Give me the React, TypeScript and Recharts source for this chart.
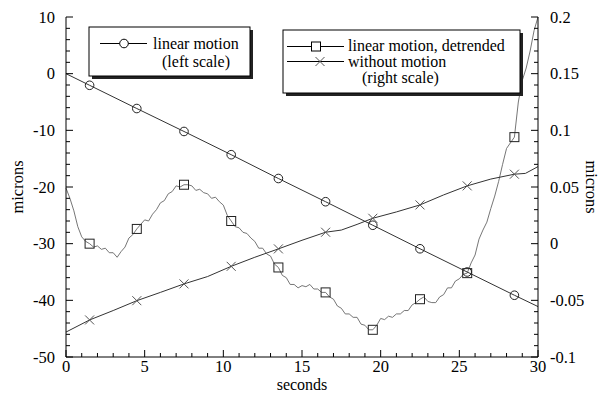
import React from 'react';
import { ComposedChart, Line, XAxis, YAxis } from 'recharts';

const FONT = '"Liberation Serif", "Times New Roman", serif';

// x positions where the symbols sit on every curve
const markerTimes = [1.5, 4.5, 7.5, 10.5, 13.5, 16.5, 19.5, 22.5, 25.5, 28.5];

// linear motion, left scale (microns)
const linearT = [0, 1.5, 4.5, 7.5, 10.5, 13.5, 16.5, 19.5, 22.5, 25.5, 28.5, 30];
const linearV = [0, -2.05, -6.15, -10.2, -14.3, -18.5, -22.6, -26.75, -30.9, -35.0, -39.1, -41.1];

// without motion, right scale (microns)
const withoutT = [0, 1.5, 3, 4.5, 6, 7.5, 9, 10.5, 12, 13.5, 15, 16.5, 17.5, 18.5, 19.5, 21, 22.5, 24, 25.5, 27, 28.5, 29.2, 30];
const withoutV = [
  -0.078, -0.0673, -0.059, -0.0503, -0.043, -0.0355, -0.029, -0.02, -0.012, -0.0046, 0.003, 0.0101,
  0.012, 0.017, 0.0224, 0.028, 0.0342, 0.043, 0.051, 0.057, 0.0613, 0.062, 0.068,
];

// linear motion detrended, right scale, sampled every 0.25 s
const detrendedStep = 0.25;
const detrendedV = [
  0.049, 0.04, 0.029, 0.015, 0.006, 0.002, 0.0, -0.003, -0.002, -0.005,
  -0.004, -0.008, -0.008, -0.012, -0.007, -0.003, 0.005, 0.008, 0.013, 0.017,
  0.021, 0.02, 0.026, 0.03, 0.036, 0.038, 0.044, 0.046, 0.051, 0.05,
  0.052, 0.052, 0.051, 0.047, 0.048, 0.045, 0.044, 0.04, 0.041, 0.037,
  0.034, 0.025, 0.02, 0.015, 0.014, 0.01, 0.009, 0.005, 0.002, -0.004,
  -0.004, -0.009, -0.011, -0.018, -0.021, -0.028, -0.03, -0.036, -0.036, -0.039,
  -0.037, -0.038, -0.036, -0.04, -0.04, -0.043, -0.043, -0.047, -0.049, -0.055,
  -0.057, -0.062, -0.062, -0.065, -0.065, -0.071, -0.072, -0.076, -0.076, -0.072,
  -0.066, -0.067, -0.064, -0.065, -0.062, -0.062, -0.059, -0.059, -0.054, -0.052,
  -0.049, -0.047, -0.051, -0.052, -0.052, -0.047, -0.045, -0.039, -0.039, -0.033,
  -0.031, -0.027, -0.026, -0.017, -0.01, 0.004, 0.012, 0.019, 0.031, 0.042,
  0.055, 0.07, 0.084, 0.089, 0.094, 0.125, 0.144, 0.155, 0.17, 0.188,
  0.2,
];

const xMajor = [0, 5, 10, 15, 20, 25, 30];
const xLabels = ['0', '5', '10', '15', '20', '25', '30'];
const leftMajor = [-50, -40, -30, -20, -10, 0, 10];
const leftLabels = ['-50', '-40', '-30', '-20', '-10', '0', '10'];
const rightMajor = [-0.1, -0.05, 0, 0.05, 0.1, 0.15, 0.2];
const rightLabels = ['-0.1', '-0.05', '0', '0.05', '0.1', '0.15', '0.2'];

const near = (a: number, b: number) => Math.abs(a - b) < 1e-6;
const isMarker = (t: number) => markerTimes.some((m) => near(m, t));

const linearData = linearT.map((t, i) => ({ t, v: linearV[i], m: isMarker(t) }));
const withoutData = withoutT.map((t, i) => ({ t, v: withoutV[i], m: isMarker(t) }));
const detrendedData = detrendedV.map((v, i) => ({ t: i * detrendedStep, v, m: isMarker(i * detrendedStep) }));

const xTicks = Array.from({ length: 31 }, (_, i) => i);
const leftTicks = Array.from({ length: 31 }, (_, i) => -50 + i * 2);
const rightTicks = Array.from({ length: 31 }, (_, i) => (i - 10) / 100);

const labelFor = (v: number, majors: number[], labels: string[]) => {
  const i = majors.findIndex((m) => near(m, v));
  return i >= 0 ? labels[i] : null;
};

const MAJOR = 7;
const MINOR = 4;
const FS = 16.5;

const BottomTick = (p: any) => {
  const lab = labelFor(p.payload.value, xMajor, xLabels);
  return (
    <g>
      <line x1={p.x} x2={p.x} y1={p.y} y2={p.y - (lab ? MAJOR : MINOR)} stroke="#000" />
      {lab && (
        <text x={p.x} y={p.y + 15} textAnchor="middle" fontSize={FS} fontFamily={FONT} fill="#000">
          {lab}
        </text>
      )}
    </g>
  );
};

const TopTick = (p: any) => {
  const lab = labelFor(p.payload.value, xMajor, xLabels);
  return <line x1={p.x} x2={p.x} y1={p.y} y2={p.y + (lab ? MAJOR : MINOR)} stroke="#000" />;
};

const LeftTick = (p: any) => {
  const lab = labelFor(p.payload.value, leftMajor, leftLabels);
  return (
    <g>
      <line x1={p.x} x2={p.x + (lab ? MAJOR : MINOR)} y1={p.y} y2={p.y} stroke="#000" />
      {lab && (
        <text x={p.x - 11} y={p.y + 5.5} textAnchor="end" fontSize={FS} fontFamily={FONT} fill="#000">
          {lab}
        </text>
      )}
    </g>
  );
};

const RightTick = (p: any) => {
  const lab = labelFor(p.payload.value, rightMajor, rightLabels);
  return (
    <g>
      <line x1={p.x} x2={p.x - (lab ? MAJOR : MINOR)} y1={p.y} y2={p.y} stroke="#000" />
      {lab && (
        <text x={p.x + 12} y={p.y + 5.5} textAnchor="start" fontSize={FS} fontFamily={FONT} fill="#000">
          {lab}
        </text>
      )}
    </g>
  );
};

const CircleDot = (p: any) =>
  p.payload.m ? (
    <circle key={p.index} cx={p.cx} cy={p.cy} r={4.3} fill="none" stroke="#222" strokeWidth={1} />
  ) : (
    <g key={p.index} />
  );

const SquareDot = (p: any) =>
  p.payload.m ? (
    <rect key={p.index} x={p.cx - 4.5} y={p.cy - 4.5} width={9} height={9} fill="none" stroke="#222" strokeWidth={1} />
  ) : (
    <g key={p.index} />
  );

const CrossDot = (p: any) =>
  p.payload.m ? (
    <path
      key={p.index}
      d={`M${p.cx - 4.5},${p.cy - 4.5}L${p.cx + 4.5},${p.cy + 4.5}M${p.cx - 4.5},${p.cy + 4.5}L${p.cx + 4.5},${p.cy - 4.5}`}
      stroke="#555"
      strokeWidth={1}
    />
  ) : (
    <g key={p.index} />
  );

const LFS = 16;

const Legends = () => (
  <svg width={602} height={393} style={{ position: 'absolute', left: 0, top: 0, pointerEvents: 'none' }}>
    <g fontFamily={FONT} fontSize={LFS} fill="#000">
      <rect x={92} y={30} width={161} height={49} fill="#222" />
      <rect x={89} y={27} width={161} height={49} fill="#fff" stroke="#000" />
      <line x1={100} x2={147} y1={43.5} y2={43.5} stroke="#000" />
      <circle cx={124} cy={43.5} r={4.3} fill="#fff" stroke="#000" />
      <text x={153} y={48.5}>linear motion</text>
      <text x={162} y={66.5}>(left scale)</text>

      <rect x={286} y={33} width={237} height={63} fill="#222" />
      <rect x={283} y={30} width={237} height={63} fill="#fff" stroke="#000" />
      <line x1={287} x2={344} y1={46.5} y2={46.5} stroke="#000" />
      <rect x={311.5} y={42} width={9} height={9} fill="#fff" stroke="#000" />
      <text x={348} y={51}>linear motion, detrended</text>
      <line x1={287} x2={344} y1={61.5} y2={61.5} stroke="#000" />
      <path d="M315.5,57L324.5,66M315.5,66L324.5,57" stroke="#555" />
      <text x={348} y={66.5}>without motion</text>
      <text x={362} y={82.5}>(right scale)</text>
    </g>
  </svg>
);

export default function App() {
  return (
    <div style={{ position: 'absolute', left: 0, top: 0, width: 602, height: 393, background: '#fff' }}>
      <ComposedChart
        width={602}
        height={393}
        margin={{ top: 17, right: 0, bottom: 0, left: 0 }}
        style={{ fontFamily: FONT }}
      >
        <XAxis
          xAxisId="b"
          type="number"
          dataKey="t"
          domain={[0, 30]}
          ticks={xTicks}
          interval={0}
          height={36}
          tickSize={0}
          tickMargin={0}
          tickLine={false}
          axisLine={{ stroke: '#000' }}
          tick={BottomTick}
          label={{ value: 'seconds', position: 'insideBottom', offset: 3, fontSize: 16, fontFamily: FONT, fill: '#000' }}
        />
        <XAxis
          xAxisId="t"
          orientation="top"
          type="number"
          dataKey="t"
          domain={[0, 30]}
          ticks={xTicks}
          interval={0}
          height={0}
          tickSize={0}
          tickMargin={0}
          tickLine={false}
          axisLine={{ stroke: '#000' }}
          tick={TopTick}
        />
        <YAxis
          yAxisId="l"
          type="number"
          domain={[-50, 10]}
          ticks={leftTicks}
          interval={0}
          width={66}
          tickSize={0}
          tickMargin={0}
          tickLine={false}
          axisLine={{ stroke: '#000' }}
          tick={LeftTick}
          label={{ value: 'microns', angle: -90, position: 'insideLeft', offset: 17, fontSize: FS, fontFamily: FONT, fill: '#000', style: { textAnchor: 'middle' } }}
        />
        <YAxis
          yAxisId="r"
          orientation="right"
          type="number"
          domain={[-0.1, 0.2]}
          ticks={rightTicks}
          interval={0}
          width={64}
          tickSize={0}
          tickMargin={0}
          tickLine={false}
          axisLine={{ stroke: '#000' }}
          tick={RightTick}
          label={{ value: 'microns', angle: 90, position: 'insideRight', offset: 10, fontSize: FS, fontFamily: FONT, fill: '#000', style: { textAnchor: 'middle' } }}
        />
        <Line
          xAxisId="b"
          yAxisId="r"
          data={detrendedData}
          dataKey="v"
          type="linear"
          stroke="#666"
          strokeWidth={0.9}
          dot={SquareDot}
          activeDot={false}
          isAnimationActive={false}
        />
        <Line
          xAxisId="b"
          yAxisId="r"
          data={withoutData}
          dataKey="v"
          type="linear"
          stroke="#333"
          strokeWidth={1}
          dot={CrossDot}
          activeDot={false}
          isAnimationActive={false}
        />
        <Line
          xAxisId="b"
          yAxisId="l"
          data={linearData}
          dataKey="v"
          type="linear"
          stroke="#333"
          strokeWidth={1}
          dot={CircleDot}
          activeDot={false}
          isAnimationActive={false}
        />
      </ComposedChart>
      <Legends />
    </div>
  );
}
